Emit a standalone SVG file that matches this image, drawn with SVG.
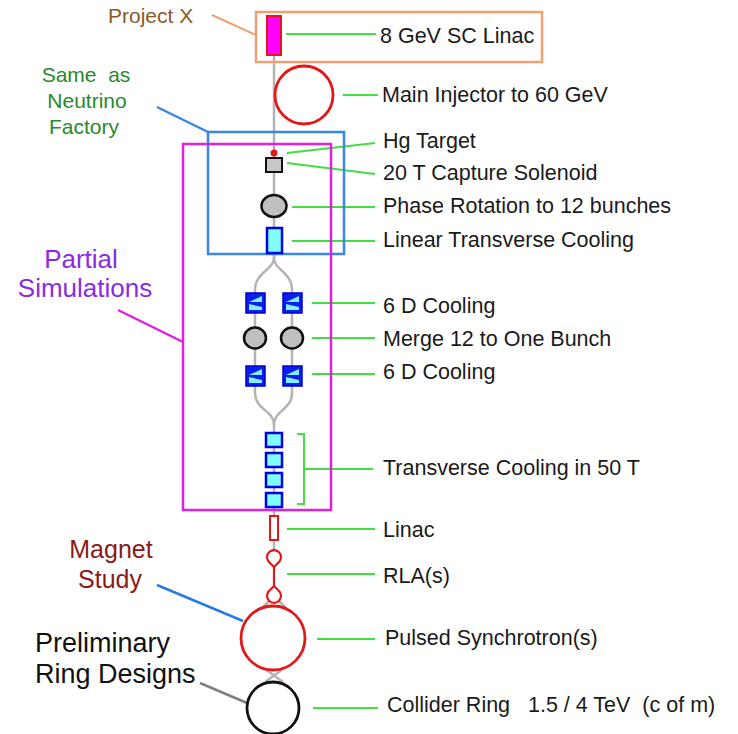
<svg xmlns="http://www.w3.org/2000/svg" width="738" height="734" viewBox="0 0 738 734">
<style>
text{font-family:"Liberation Sans",Arial,sans-serif;}
.lbl{font-size:21.5px;fill:#1a1a1a;}
.gl{stroke:#44dd44;stroke-width:2;fill:none;}
.beam{stroke:#b4b4b4;stroke-width:2.5;fill:none;}
.cyanbox{fill:#80ffff;stroke:#0000e0;stroke-width:2.5;}
.grayov{fill:#c0c0c0;stroke:#111;stroke-width:2.5;}
.redc{fill:none;stroke:#e01818;stroke-width:2.8;}
</style>
<defs>
<g id="d6">
<rect x="0" y="0" width="19" height="20" fill="#0a1ef0" stroke="#0000d0" stroke-width="1.5"/>
<polygon points="3,9 16,3 16,9" fill="#80f0ff"/>
<polygon points="3,11 16,14 16,17 3,17" fill="#80f0ff"/>
</g>
</defs>
<rect width="738" height="734" fill="#ffffff"/>

<g id="connectors">
<line class="beam" x1="274" y1="55" x2="274" y2="228"/>
<path class="beam" d="M274,253 L274,258 C274,270 255,272 255,290 L255,393 C255,410 274,410 274,425 L274,516"/>
<path class="beam" d="M274,253 L274,258 C274,270 292,272 292,290 L292,393 C292,410 274,410 274,425"/>
<line class="beam" x1="274" y1="540" x2="274" y2="551"/>
<path class="beam" d="M270,600 L262,608 M278,600 L286,608"/>
<path class="beam" d="M265,669 L283,682 M283,669 L265,682"/>
<line class="gl" x1="286" y1="34" x2="376" y2="34"/>
<line class="gl" x1="343" y1="95" x2="378" y2="95"/>
<line class="gl" x1="287" y1="153" x2="375" y2="143"/>
<line class="gl" x1="287" y1="163" x2="375" y2="174"/>
<line class="gl" x1="292" y1="207" x2="375" y2="207"/>
<line class="gl" x1="292" y1="241" x2="375" y2="241"/>
<line class="gl" x1="312" y1="303" x2="375" y2="303"/>
<line class="gl" x1="312" y1="338" x2="375" y2="338"/>
<line class="gl" x1="312" y1="374" x2="375" y2="374"/>
<path class="gl" d="M297,434 L304,434 L304,504 L297,504 M304,469 L373,469"/>
<line class="gl" x1="287" y1="529" x2="375" y2="529"/>
<line class="gl" x1="287" y1="574" x2="375" y2="574"/>
<line class="gl" x1="317" y1="639" x2="375" y2="639"/>
<line class="gl" x1="313" y1="708" x2="378" y2="708"/>
<line x1="212" y1="15" x2="256" y2="35" stroke="#f0a070" stroke-width="2"/>
<line x1="157" y1="107" x2="208" y2="132" stroke="#3a86e8" stroke-width="2.5"/>
<line x1="118" y1="310" x2="183" y2="342" stroke="#e020e0" stroke-width="2.5"/>
<line x1="157" y1="585" x2="243" y2="621" stroke="#2a7ae0" stroke-width="2.5"/>
<line x1="200" y1="683" x2="247" y2="703" stroke="#808080" stroke-width="2.5"/>
</g>

<g id="project-x">
<rect x="256" y="12" width="286" height="50" fill="none" stroke="#f0a070" stroke-width="2.5"/>
<text x="108" y="23" style="font-size:21px;fill:#8b5a2b">Project X</text>
</g>
<g id="sc-linac">
<rect x="267" y="16" width="14" height="39" fill="#ff00ff" stroke="#e01818" stroke-width="2"/>
<text class="lbl" x="380" y="43">8 GeV SC Linac</text>
</g>
<g id="main-injector">
<circle class="redc" cx="304" cy="95" r="29"/>
<text class="lbl" x="382" y="102">Main Injector to 60 GeV</text>
</g>
<g id="neutrino-factory">
<rect x="208" y="132" width="136" height="122" fill="none" stroke="#3a86e8" stroke-width="2.5"/>
<text x="86" y="82" text-anchor="middle" style="font-size:21px;fill:#2a8a2a;white-space:pre">Same  as</text>
<text x="87" y="108" text-anchor="middle" style="font-size:21px;fill:#2a8a2a">Neutrino</text>
<text x="84" y="134" text-anchor="middle" style="font-size:21px;fill:#2a8a2a">Factory</text>
</g>
<g id="partial-simulations">
<rect x="183" y="144" width="148" height="366" fill="none" stroke="#e020e0" stroke-width="2.5"/>
<text x="81" y="268" text-anchor="middle" style="font-size:26px;fill:#8a2be2">Partial</text>
<text x="85" y="297" text-anchor="middle" style="font-size:26px;fill:#8a2be2">Simulations</text>
</g>
<g id="hg-target">
<circle cx="274" cy="153" r="3.5" fill="#e01818"/>
<text class="lbl" x="383" y="148">Hg Target</text>
</g>
<g id="capture-solenoid">
<rect x="266" y="158" width="16" height="14" fill="#c8c8c8" stroke="#111" stroke-width="2"/>
<text class="lbl" x="383" y="180">20 T Capture Solenoid</text>
</g>
<g id="phase-rotation">
<ellipse class="grayov" cx="274" cy="206" rx="12.5" ry="11"/>
<text class="lbl" x="383" y="213">Phase Rotation to 12 bunches</text>
</g>
<g id="linear-cooling">
<rect class="cyanbox" x="267" y="228" width="15" height="25"/>
<text class="lbl" x="383" y="247">Linear Transverse Cooling</text>
</g>
<g id="cooling-6d-a">
<use href="#d6" x="246" y="293"/>
<use href="#d6" x="283" y="293"/>
<text class="lbl" x="383" y="313">6 D Cooling</text>
</g>
<g id="merge">
<ellipse class="grayov" cx="255" cy="338" rx="11" ry="10.5"/>
<ellipse class="grayov" cx="292" cy="338" rx="11" ry="10.5"/>
<text class="lbl" x="383" y="346">Merge 12 to One Bunch</text>
</g>
<g id="cooling-6d-b">
<use href="#d6" x="246" y="366"/>
<use href="#d6" x="283" y="366"/>
<text class="lbl" x="383" y="379">6 D Cooling</text>
</g>
<g id="transverse-cooling-50t">
<rect class="cyanbox" x="266" y="433" width="16" height="14"/>
<rect class="cyanbox" x="266" y="453" width="16" height="14"/>
<rect class="cyanbox" x="266" y="473" width="16" height="14"/>
<rect class="cyanbox" x="266" y="493" width="16" height="14"/>
<text class="lbl" x="383" y="475">Transverse Cooling in 50 T</text>
</g>
<g id="linac">
<rect x="270" y="516" width="8" height="24" fill="#fff" stroke="#e01818" stroke-width="2"/>
<text class="lbl" x="383" y="537">Linac</text>
</g>
<g id="rla">
<path d="M274,567 L268.5,561.5 A7,7 0 1 1 279.5,561.5 Z" fill="#fff" stroke="#e01818" stroke-width="2.2"/>
<line x1="274" y1="567" x2="274" y2="586" stroke="#e01818" stroke-width="2.2"/>
<path d="M274,586 L279.5,591.5 A7,7 0 1 1 268.5,591.5 Z" fill="#fff" stroke="#e01818" stroke-width="2.2"/>
<text class="lbl" x="383" y="583">RLA(s)</text>
</g>
<g id="magnet-study">
<text x="111" y="558" text-anchor="middle" style="font-size:25px;fill:#8b1a1a">Magnet</text>
<text x="110" y="588" text-anchor="middle" style="font-size:25px;fill:#8b1a1a">Study</text>
</g>
<g id="pulsed-synchrotron">
<circle class="redc" cx="273" cy="638" r="32"/>
<text class="lbl" x="385" y="645">Pulsed Synchrotron(s)</text>
</g>
<g id="preliminary-ring">
<text x="35" y="652" style="font-size:27px;fill:#111">Preliminary</text>
<text x="35" y="683" style="font-size:27px;fill:#111">Ring Designs</text>
</g>
<g id="collider-ring">
<circle cx="273" cy="708" r="26" fill="none" stroke="#111" stroke-width="2.8"/>
<text class="lbl" x="387" y="712" style="white-space:pre">Collider Ring   1.5 / 4 TeV  (c of m)</text>
</g>
</svg>
